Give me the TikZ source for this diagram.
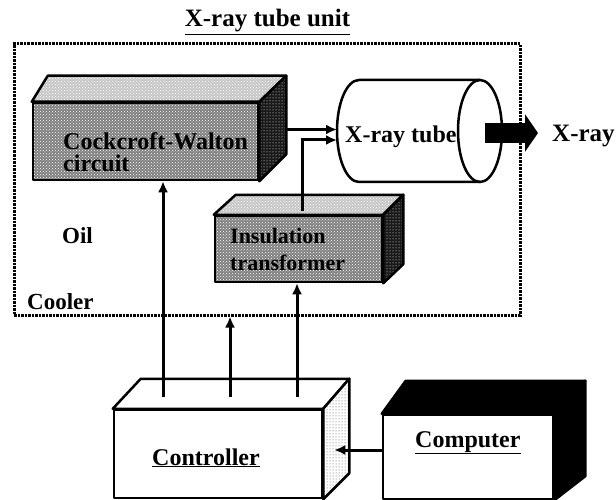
\documentclass[tikz,border=0pt]{standalone}
\usepackage{fontspec}
\setmainfont{Liberation Serif}
\usetikzlibrary{arrows.meta,patterns}

\tikzset{
    face/.style={draw, line width=2.5pt, line join=round, inner sep=0pt},
    speckle/.style 2 args={pattern=crosshatch dots, pattern color=#2, preaction={fill=#1}},
    sparse/.style 2 args={pattern=dots, pattern color=#2, preaction={fill=#1}},
    lbl/.style={font=\fontsize{24}{22}\selectfont\bfseries, inner sep=0pt},
    arr/.style={line width=3pt, -{Latex[length=11pt,width=10pt]}}
}

\begin{document}
\begin{tikzpicture}[x=1pt,y=-1pt]
    \useasboundingbox (0,0) rectangle (616,500);
    % x-ray tube unit
        \node[draw, line width=3pt, dash pattern=on 2.5pt off 1pt, inner sep=0pt,
              minimum width=506pt, minimum height=271pt] (unit) at (267,179.5) {};
        \node[lbl, font=\fontsize{25}{25}\selectfont\bfseries, anchor=base] (title) at (267.5,27) {\underline{X-ray tube unit}};
        \node[lbl, font=\fontsize{23}{23}\selectfont\bfseries, anchor=base west] (oil) at (62,243) {Oil};
        \node[lbl, font=\fontsize{23}{23}\selectfont\bfseries, anchor=base west] (cooler) at (27,309) {Cooler};
    % cockcroft-walton circuit
        \node[face, speckle={black!50}{white}, minimum width=225pt, minimum height=77pt] (cw) at (145.5,141.5) {};
        \path[face, speckle={black!22}{white}] (cw.north west) -- ([shift={(16,-26)}]cw.north west)
            -- ([shift={(27,-26)}]cw.north east) -- (cw.north east) -- cycle;
        \path[face, sparse={black!90}{white}] (cw.north east) -- ([shift={(27,-26)}]cw.north east)
            -- ([shift={(27,-27)}]cw.south east) -- (cw.south east) -- cycle;
        \node[lbl, align=left, anchor=north west] (cwtext) at (63,132) {Cockcroft-Walton\\circuit};
    % insulation transformer
        \node[face, speckle={black!50}{white}, minimum width=167pt, minimum height=66pt] (ins) at (298.5,249) {};
        \path[face, speckle={black!22}{white}] (ins.north west) -- ([shift={(22,-20)}]ins.north west)
            -- ([shift={(20,-20)}]ins.north east) -- (ins.north east) -- cycle;
        \path[face, sparse={black!90}{white}] (ins.north east) -- ([shift={(20,-20)}]ins.north east)
            -- ([shift={(20,-19)}]ins.south east) -- (ins.south east) -- cycle;
        \node[lbl, font=\fontsize{22}{27}\selectfont\bfseries, align=left, anchor=north west] (instext) at (230,228) {Insulation\\transformer};
    % x-ray tube
        \draw[line width=2.5pt] (480,80) -- (359,80) arc[start angle=270, end angle=90, x radius=22, y radius=51] -- (480,182);
        \draw[line width=2.5pt] (480,131) ellipse [x radius=22, y radius=51];
        \coordinate (tubeleft) at (337,131);
        \node[lbl, anchor=base west] (tube) at (345,143) {X-ray tube};
        \node[lbl, font=\fontsize{25}{25}\selectfont\bfseries, anchor=base west] (xray) at (552,142) {X-ray};
        \coordinate (beam) at (485,133);
        \draw[line width=20pt, shorten >=14pt, -{Triangle[length=13pt,width=37pt]}] (beam) -- (beam -| xray.west);
    % controller and computer
        \node[face, fill=white, minimum width=208pt, minimum height=88pt] (ctrl) at (218,454) {};
        \path[face, fill=white] (ctrl.north west) -- ([shift={(28,-30)}]ctrl.north west)
            -- ([shift={(26,-30)}]ctrl.north east) -- (ctrl.north east) -- cycle;
        \path[face, sparse={white}{black!70}] (ctrl.north east) -- ([shift={(26,-30)}]ctrl.north east)
            -- ([shift={(26,-26)}]ctrl.south east) -- (ctrl.south east) -- cycle;
        \node[lbl, anchor=base west] (ctrltext) at (152,465) {\underline{Controller}};
        \node[face, fill=white, minimum width=170pt, minimum height=84pt] (comp) at (468,457) {};
        \path[face, fill=black] (comp.north west) -- ([shift={(24,-33)}]comp.north west)
            -- ([shift={(31,-33)}]comp.north east) -- (comp.north east) -- cycle;
        \path[face, fill=black] (comp.north east) -- ([shift={(31,-33)}]comp.north east)
            -- ([shift={(31,-24)}]comp.south east) -- (comp.south east) -- cycle;
        \node[lbl, anchor=base west] (comptext) at (415,447) {\underline{Computer}};
    % signals
        \draw[arr] ([shift={(27,-12)}]cw.east) coordinate (cwout) -- (cwout -| tubeleft);
        \draw[arr] ([shift={(3.5,-4)}]ins.north) |- ([shift={(0,9)}]tubeleft);
        \foreach \dx/\v in {-55/cw, 12/unit, 79/ins}{
            \draw[arr] ([shift={(\dx,-12)}]ctrl.north) coordinate (port) -- (port |- \v.south);
        }
        \coordinate (ctrlport) at ([shift={(11,-4)}]ctrl.east);
        \draw[arr] (comp.west |- ctrlport) -- (ctrlport);
\end{tikzpicture}
\end{document}
